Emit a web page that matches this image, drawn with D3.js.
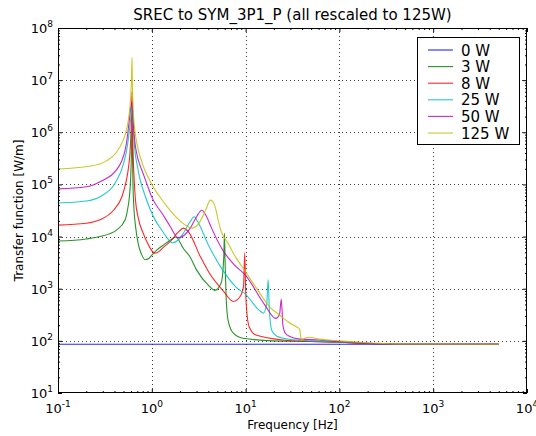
<!DOCTYPE html>
<html>
<head>
<meta charset="utf-8">
<script src="https://cdn.jsdelivr.net/npm/d3@7"></script>
<style>
  html, body { margin: 0; padding: 0; background: #fff; }
  svg { display: block; font-family: "DejaVu Sans", sans-serif; }
</style>
</head>
<body>
<svg id="chart" width="536" height="436"></svg>
<script>
// ---------------- data ----------------
const seriesNames = ["0 W", "3 W", "8 W", "25 W", "50 W", "125 W"];
const seriesColors = ["#0000ff", "#008000", "#ff0000", "#00bfbf", "#bf00bf", "#bfbf00"];

const f0W = [0.1, 10, 5000];
const v0W = [86, 86, 86];

const f3W = [0.1, 0.2, 0.28, 0.42, 0.52, 0.55, 0.575, 0.595, 0.607, 0.615, 0.622, 0.63, 0.645, 0.67, 0.72, 0.78, 0.85, 0.93, 1.0, 1.13, 1.33, 1.6, 1.8, 2.17, 2.55, 3, 4, 4.7, 5.5, 5.85, 5.95, 6.05, 6.2, 6.5, 7.4, 9.4, 20, 50, 100, 200, 500, 5000];
const v3W = [8200, 9000, 10000, 13300, 21000, 32000, 55000, 130000, 400000, 1500000, 400000, 100000, 35000, 16000, 7000, 4500, 3600, 3800, 4400, 5500, 6900, 8700, 9800, 5900, 4100, 2300, 1170, 930, 1300, 4000, 11600, 3000, 700, 250, 140, 112, 100, 97, 94, 89, 86, 86];

const f8W = [0.1, 0.2, 0.28, 0.39, 0.48, 0.53, 0.56, 0.585, 0.6, 0.61, 0.615, 0.62, 0.63, 0.645, 0.67, 0.72, 0.81, 0.9, 0.97, 1.08, 1.2, 1.3, 1.57, 1.9, 2.17, 2.45, 3.3, 4.1, 5.8, 7.4, 8.7, 9.5, 9.8, 10.0, 10.2, 10.9, 12.9, 25, 50, 100, 200, 500, 5000];
const v8W = [16600, 18000, 21000, 32000, 58000, 110000, 190000, 400000, 1000000, 2500000, 6000000, 2500000, 500000, 150000, 50000, 22000, 11600, 7500, 5800, 4800, 5200, 6000, 8000, 12000, 14500, 12400, 4100, 2000, 900, 570, 700, 1100, 4900, 1000, 450, 187, 129, 104, 97, 94, 89, 86, 86];

const f25W = [0.1, 0.2, 0.28, 0.405, 0.5, 0.54, 0.57, 0.595, 0.608, 0.615, 0.622, 0.635, 0.66, 0.7, 0.75, 0.85, 0.95, 1.1, 1.27, 1.45, 1.65, 1.9, 2.17, 2.55, 2.83, 3.1, 4.0, 5.3, 8.0, 10, 14.1, 15.5, 16.8, 17.4, 17.9, 19, 21.3, 30, 50, 100, 200, 500, 5000];
const v25W = [44000, 48000, 58000, 105000, 250000, 460000, 900000, 1800000, 2600000, 3000000, 2400000, 1200000, 450000, 230000, 125000, 60000, 35000, 20000, 13500, 9500, 7600, 8500, 11600, 19000, 24000, 19000, 7000, 2800, 1050, 780, 380, 340, 520, 1500, 400, 160, 124, 106, 100, 95, 90, 86, 86];

const f50W = [0.1, 0.2, 0.28, 0.42, 0.52, 0.55, 0.575, 0.6, 0.615, 0.625, 0.64, 0.66, 0.7, 0.75, 0.81, 0.9, 1.0, 1.3, 1.56, 1.9, 2.2, 2.6, 3.0, 3.4, 3.8, 4.3, 5.7, 7.4, 10, 16, 21, 23, 24, 25, 26.5, 30, 38, 60, 100, 200, 500, 5000];
const v50W = [82000, 90000, 113000, 190000, 460000, 850000, 1700000, 3200000, 3900000, 2500000, 1200000, 650000, 350000, 230000, 160000, 95000, 57000, 27000, 16000, 9500, 10500, 15000, 24000, 32000, 25000, 15000, 5500, 3000, 1800, 490, 270, 320, 630, 200, 140, 120, 108, 104, 97, 90, 86, 86];

const f125W = [0.1, 0.216, 0.325, 0.415, 0.489, 0.52, 0.552, 0.575, 0.595, 0.607, 0.615, 0.622, 0.632, 0.65, 0.68, 0.72, 0.8, 0.9, 1.0, 1.2, 1.5, 2.0, 2.7, 3.3, 3.8, 4.2, 4.5, 4.8, 5.0, 5.5, 6.5, 7.4, 10, 14, 18, 23, 29.6, 35, 37.5, 39.5, 43, 47, 61, 100, 200, 500, 5000];
const v125W = [198000, 223000, 280000, 400000, 670000, 900000, 1400000, 2300000, 4500000, 10000000, 27000000, 8000000, 3000000, 1400000, 750000, 450000, 240000, 145000, 100000, 60000, 35000, 20000, 14500, 20000, 34000, 50000, 46000, 34000, 24000, 12500, 7500, 4800, 2100, 850, 450, 313, 220, 185, 170, 102, 113, 117, 108, 100, 92, 87, 86];

const seriesFreqs = [f0W, f3W, f8W, f25W, f50W, f125W];
const seriesValues = [v0W, v3W, v8W, v25W, v50W, v125W];

const xMajor = [0.1, 1, 10, 100, 1000, 10000];
const xMajorExp = ["-1", "0", "1", "2", "3", "4"];
const yMajor = [10, 100, 1e3, 1e4, 1e5, 1e6, 1e7, 1e8];
const yMajorExp = ["1", "2", "3", "4", "5", "6", "7", "8"];

const titleText = "SREC to SYM_3P1_P (all rescaled to 125W)";
const xLabelText = "Frequency [Hz]";
const yLabelText = "Transfer function [W/m]";

// ---------------- drawing ----------------
const svg = d3.select("#chart");
const L = 58, R = 527, T = 28, B = 393;
const x = d3.scaleLog().domain([0.1, 1e4]).range([L, R]);
const y = d3.scaleLog().domain([10, 1e8]).range([B, T]);

function minors(lo, hi) {
  const out = [];
  for (let e = Math.floor(Math.log10(lo)); e < Math.ceil(Math.log10(hi)); e++) {
    for (let m = 2; m <= 9; m++) {
      const v = m * Math.pow(10, e);
      if (v > lo && v < hi) out.push(v);
    }
  }
  return out;
}
const xMinor = minors(0.1, 1e4);
const yMinor = minors(10, 1e8);

// grid
const grid = svg.append("g").attr("stroke", "#000").attr("stroke-width", 1)
  .attr("stroke-dasharray", "1,3").attr("opacity", 0.75);
grid.selectAll("line.gx").data(xMajor.slice(1, -1)).join("line")
  .attr("x1", d => Math.round(x(d)) + 0.5).attr("x2", d => Math.round(x(d)) + 0.5)
  .attr("y1", T).attr("y2", B);
grid.selectAll("line.gy").data(yMajor.slice(1, -1)).join("line")
  .attr("y1", d => Math.round(y(d)) + 0.5).attr("y2", d => Math.round(y(d)) + 0.5)
  .attr("x1", L).attr("x2", R);

// clip
svg.append("clipPath").attr("id", "clip").append("rect")
  .attr("x", L).attr("y", T).attr("width", R - L).attr("height", B - T);

const line = d3.line().x(d => x(d[0])).y(d => y(d[1])).curve(d3.curveMonotoneX);
const plot = svg.append("g").attr("clip-path", "url(#clip)");
seriesNames.forEach((name, i) => {
  const pts = seriesFreqs[i].map((f, j) => [f, seriesValues[i][j]]);
  plot.append("path").datum(pts)
    .attr("fill", "none").attr("stroke", seriesColors[i])
    .attr("stroke-width", 1.1).attr("stroke-opacity", 0.85)
    .attr("d", line);
});

// axes (ticks inward on all sides)
function styleAxis(g) {
  g.select(".domain").remove();
  g.selectAll(".tick line").attr("stroke", "#000");
}
svg.append("g").attr("transform", `translate(0,${B})`)
  .call(d3.axisBottom(x).tickValues(xMajor).tickSize(-4).tickFormat("")).call(styleAxis);
svg.append("g").attr("transform", `translate(0,${B})`)
  .call(d3.axisBottom(x).tickValues(xMinor).tickSize(-2).tickFormat("")).call(styleAxis);
svg.append("g").attr("transform", `translate(0,${T})`)
  .call(d3.axisTop(x).tickValues(xMajor).tickSize(-4).tickFormat("")).call(styleAxis);
svg.append("g").attr("transform", `translate(0,${T})`)
  .call(d3.axisTop(x).tickValues(xMinor).tickSize(-2).tickFormat("")).call(styleAxis);
svg.append("g").attr("transform", `translate(${L},0)`)
  .call(d3.axisLeft(y).tickValues(yMajor).tickSize(-4).tickFormat("")).call(styleAxis);
svg.append("g").attr("transform", `translate(${L},0)`)
  .call(d3.axisLeft(y).tickValues(yMinor).tickSize(-2).tickFormat("")).call(styleAxis);
svg.append("g").attr("transform", `translate(${R},0)`)
  .call(d3.axisRight(y).tickValues(yMajor).tickSize(-4).tickFormat("")).call(styleAxis);
svg.append("g").attr("transform", `translate(${R},0)`)
  .call(d3.axisRight(y).tickValues(yMinor).tickSize(-2).tickFormat("")).call(styleAxis);

// frame
svg.append("rect").attr("x", L + 0.5).attr("y", T + 0.5)
  .attr("width", R - L - 1).attr("height", B - T - 1)
  .attr("fill", "none").attr("stroke", "#000").attr("stroke-width", 1);

// tick labels
const xl = svg.append("g").attr("font-size", 13).attr("fill", "#000");
xMajor.forEach((v, i) => {
  const t = xl.append("text").attr("x", x(v)).attr("y", B + 20).attr("text-anchor", "middle");
  t.append("tspan").text("10");
  t.append("tspan").attr("font-size", 9).attr("dy", -6).text(xMajorExp[i]);
});
const yl = svg.append("g").attr("font-size", 13).attr("fill", "#000");
yMajor.forEach((v, i) => {
  const t = yl.append("text").attr("x", L - 5).attr("y", y(v) + 5).attr("text-anchor", "end");
  t.append("tspan").text("10");
  t.append("tspan").attr("font-size", 9).attr("dy", -6).text(yMajorExp[i]);
});

// titles
svg.append("text").attr("x", (L + R) / 2).attr("y", 20).attr("text-anchor", "middle")
  .attr("font-size", 15).text(titleText);
svg.append("text").attr("x", (L + R) / 2).attr("y", 429).attr("text-anchor", "middle")
  .attr("font-size", 12).text(xLabelText);
svg.append("text").attr("transform", `translate(23,${(T + B) / 2}) rotate(-90)`)
  .attr("text-anchor", "middle").attr("font-size", 12).text(yLabelText);

// legend
const lg = svg.append("g");
lg.append("rect").attr("x", 417.5).attr("y", 37.5).attr("width", 102).attr("height", 107)
  .attr("fill", "#fff").attr("stroke", "#000").attr("stroke-width", 1);
seriesNames.forEach((name, i) => {
  const cy = 50 + i * 16.6;
  lg.append("line").attr("x1", 428).attr("x2", 453).attr("y1", cy).attr("y2", cy)
    .attr("stroke", seriesColors[i]).attr("stroke-width", 1.1).attr("stroke-opacity", 0.85);
  lg.append("text").attr("x", 461).attr("y", cy + 5.5).attr("font-size", 15).text(name);
});
</script>
</body>
</html>
